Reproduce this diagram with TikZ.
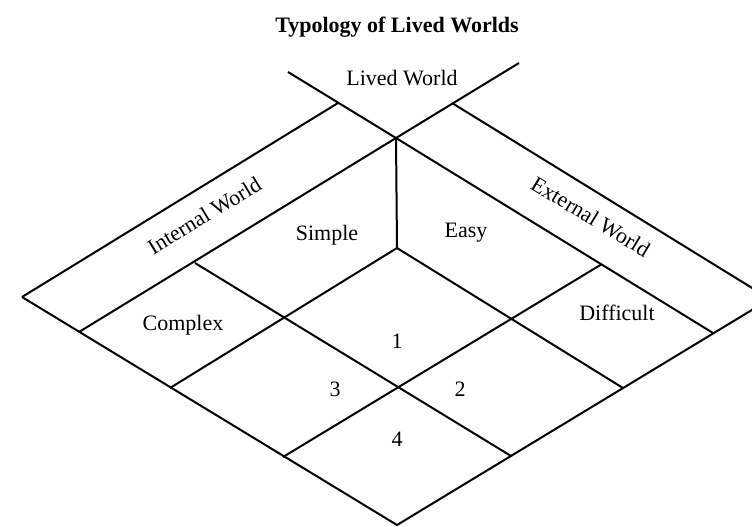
\documentclass[tikz,border=0pt]{standalone}
\usepackage{fontspec}
\setmainfont{Liberation Serif}
\usetikzlibrary{positioning}

\begin{document}
\begin{tikzpicture}[
  x=1pt, y=-1pt,
  edge/.style={line width=2pt},
  lbl/.style={font=\fontsize{22}{26}\selectfont, inner sep=0pt, anchor=base},
  strip/.style={font=\fontsize{22}{26}\selectfont, inner sep=0pt, anchor=mid}
]
\useasboundingbox (0,0) rectangle (752,527);
\clip (0,0) rectangle (752,527);

% corner points of the diamond
\coordinate (bot) at (397,525);
\coordinate (ltip) at (22,297);
\coordinate (rtip) at (770,299);
\coordinate (top) at (396,138);
\coordinate (mid) at (397,388);
\coordinate (cube) at (397,248);

% left edge points
\coordinate (l1) at (283,457);
\coordinate (l2) at (170,388);
\coordinate (l3) at (79,332);
% right edge points
\coordinate (r1) at (511,456);
\coordinate (r2) at (623,388);
\coordinate (r3) at (713,333);

% inner points
\coordinate (sl) at (195,263);
\coordinate (dr) at (602,264);

% ends of the strips
\coordinate (inend) at (338,103);
\coordinate (exend) at (452,103);
\coordinate (lwa) at (288,72);
\coordinate (lwb) at (519,63);

% outline
\draw[edge] (ltip) -- (bot) -- (rtip);
\draw[edge] (ltip) -- (inend);
\draw[edge] (exend) -- (rtip);
\draw[edge] (lwa) -- (top) -- (r3);
\draw[edge] (lwb) -- (top) -- (l3);
\draw[edge] (top) -- (cube);

% grid
\draw[edge] (sl) -- (r1);
\draw[edge] (cube) -- (r2);
\draw[edge] (l2) -- (cube);
\draw[edge] (l1) -- (dr);

% labels
\node[lbl, font=\fontsize{22}{26}\selectfont\bfseries] (title) at (397,33) {Typology of Lived Worlds};
\node[lbl] (lived) at (402,85) {Lived World};
\node[strip, rotate=31.2] (internal) at (207,220) {Internal World};
\node[strip, rotate=-31.2] (external) at (588,221) {External World};
\node[lbl] (simple) at (327,240) {Simple};
\node[lbl] (easy) at (466,237) {Easy};
\node[lbl] (complex) at (183,330) {Complex};
\node[lbl] (difficult) at (617,320) {Difficult};
\node[lbl] (c1) at (397,348) {1};
\node[lbl] (c2) at (460,396) {2};
\node[lbl] (c3) at (335,396) {3};
\node[lbl] (c4) at (397,446) {4};
\end{tikzpicture}
\end{document}
